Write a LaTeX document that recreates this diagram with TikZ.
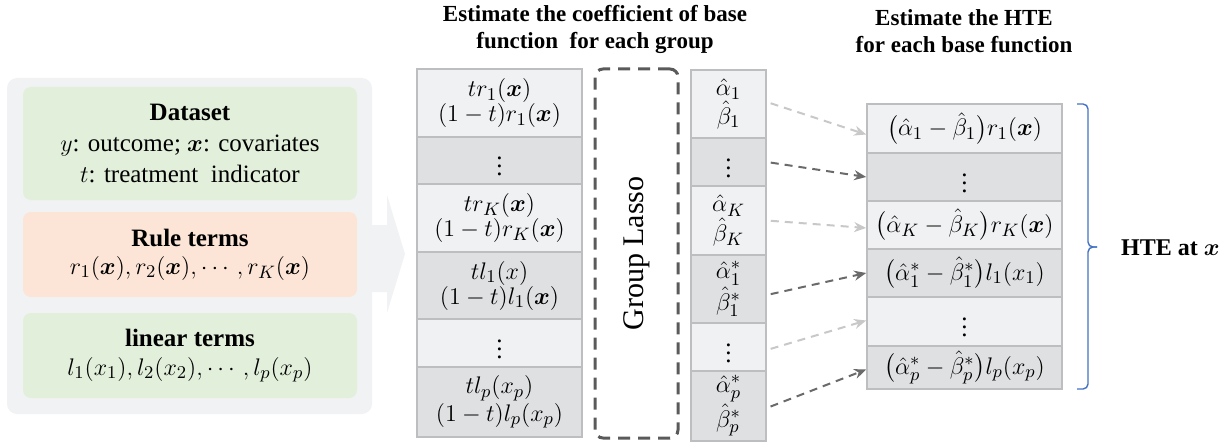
\documentclass[tikz,border=0pt]{standalone}
\usepackage{amsmath}
\usepackage{fontspec}
\setmainfont{Liberation Serif}
\usetikzlibrary{arrows.meta}
\definecolor{panelbg}{HTML}{F1F2F4}
\definecolor{greenbox}{HTML}{E2EFDA}
\definecolor{peachbox}{HTML}{FCE4D6}
\definecolor{celllight}{HTML}{F0F1F3}
\definecolor{celldark}{HTML}{DFE0E2}
\definecolor{cellborder}{HTML}{BDBEC0}
\definecolor{lassogray}{HTML}{5A5A5A}
\definecolor{arrowlight}{HTML}{C8C8C8}
\definecolor{arrowdark}{HTML}{6A6A6A}
\definecolor{braceblue}{HTML}{4472C4}
\tikzset{
  txt/.style={font=\fontsize{12.5}{15.5}\selectfont, align=center},
  inbox/.style={txt, rounded corners=4pt, inner sep=0pt, minimum width=167pt},
  cellbase/.style={align=center, draw=cellborder, line width=0.8pt, inner sep=0pt, font=\fontsize{12.5}{12.5}\selectfont},
  colA/.style={minimum width=82.5pt},
  colB/.style={minimum width=37.5pt},
  colH/.style={minimum width=97.5pt},
  cellL/.style={cellbase, fill=celllight},
  cellD/.style={cellbase, fill=celldark},
  title/.style={font=\fontsize{11.5}{13.5}\selectfont\bfseries, align=center},
  lightarrow/.style={draw=arrowlight, line width=1pt, dash pattern=on 4pt off 3pt, -{Stealth[length=6pt,width=5pt]}},
  darkarrow/.style={draw=arrowdark, line width=1pt, dash pattern=on 4pt off 3pt, -{Stealth[length=6pt,width=5pt]}}
}
\begin{document}
\begin{tikzpicture}[x=0.5pt,y=-0.5pt]
\useasboundingbox (0,0) rectangle (1219,444);
% left panel
\fill[panelbg, rounded corners=5pt] (7,78) rectangle (372,414);
\fill[panelbg] (371,225) -- (387,225) -- (387,195) -- (405,254) -- (387,313) -- (387,292) -- (371,292) -- cycle;
\node[inbox, fill=greenbox, minimum height=56.5pt] (data) at (190,143.5) {\textbf{Dataset}\\ $y$: outcome; $\boldsymbol{x}$: covariates\\ $t$: treatment\ \ indicator};
\node[inbox, fill=peachbox, minimum height=42.5pt, font=\fontsize{12.5}{14}\selectfont] (rule) at (190,254.5) {\textbf{Rule terms}\\ $r_1(\boldsymbol{x}), r_2(\boldsymbol{x}), \cdots, r_K(\boldsymbol{x})$};
\node[inbox, fill=greenbox, minimum height=42.5pt, font=\fontsize{12.5}{14.5}\selectfont] (lin) at (190,355.5) {\textbf{linear terms}\\ $l_1(x_1), l_2(x_2), \cdots, l_p(x_p)$};
% titles
\node[title] (t1) at (595,29) {Estimate the coefficient of base\\ function\ \ for each group};
\node[title] (t2) at (964,31) {Estimate the HTE\\ for each base function};
% first column
\node[cellL, colA, minimum height=34pt] (a1) at (499.5,103) {$t r_1(\boldsymbol{x})$\\ $(1-t) r_1(\boldsymbol{x})$};
\node[cellD, colA, minimum height=23.5pt] (a2) at (499.5,160.5) {$\vdots$};
\node[cellL, colA, minimum height=34pt] (a3) at (499.5,218) {$t r_K(\boldsymbol{x})$\\ $(1-t) r_K(\boldsymbol{x})$};
\node[cellD, colA, minimum height=33.5pt] (a4) at (499.5,285.5) {$t l_1(x)$\\ $(1-t) l_1(\boldsymbol{x})$};
\node[cellL, colA, minimum height=24pt] (a5) at (499.5,343) {$\vdots$};
\node[cellD, colA, minimum height=35pt] (a6) at (499.5,402) {$t l_p(x_p)$\\ $(1-t) l_p(x_p)$};
% group lasso
\node[draw=lassogray, line width=1.5pt, dash pattern=on 6pt off 4pt, rounded corners=4pt, inner sep=0pt, minimum width=41.5pt, minimum height=184.5pt] (lasso) at (636.5,253.5) {};
\node[rotate=90, font=\fontsize{15}{18}\selectfont] (lassotxt) at (lasso.center) {Group Lasso};
% coefficient column
\node[cellL, colB, minimum height=34pt] (b1) at (728.5,104) {$\hat{\alpha}_1$\\ $\hat{\beta}_1$};
\node[cellD, colB, minimum height=24pt] (b2) at (728.5,162) {$\vdots$};
\node[cellL, colB, minimum height=34.5pt] (b3) at (728.5,220.5) {$\hat{\alpha}_K$\\ $\hat{\beta}_K$};
\node[cellD, colB, minimum height=34pt] (b4) at (728.5,289) {$\hat{\alpha}_1^*$\\ $\hat{\beta}_1^*$};
\node[cellL, colB, minimum height=24pt] (b5) at (728.5,347) {$\vdots$};
\node[cellD, colB, minimum height=35pt] (b6) at (728.5,406) {$\hat{\alpha}_p^*$\\ $\hat{\beta}_p^*$};
% HTE column
\node[cellL, colH, minimum height=24.5pt] (h1) at (964.5,128.5) {$\bigl(\hat{\alpha}_1-\hat{\beta}_1\bigr) r_1(\boldsymbol{x})$};
\node[cellD, colH, minimum height=24pt] (h2) at (964.5,177) {$\vdots$};
\node[cellL, colH, minimum height=24pt] (h3) at (964.5,225) {$\bigl(\hat{\alpha}_K-\hat{\beta}_K\bigr) r_K(\boldsymbol{x})$};
\node[cellD, colH, minimum height=24pt] (h4) at (964.5,273) {$\bigl(\hat{\alpha}_1^*-\hat{\beta}_1^*\bigr) l_1(x_1)$};
\node[cellL, colH, minimum height=24.5pt] (h5) at (964.5,321.5) {$\vdots$};
\node[cellD, colH, minimum height=21.5pt] (h6) at (964.5,367.5) {$\bigl(\hat{\alpha}_p^*-\hat{\beta}_p^*\bigr) l_p(x_p)$};
% arrows
\draw[lightarrow, shorten <=2pt] ([yshift=1pt]b1.east) -- ([yshift=-3pt]h1.west);
\draw[darkarrow, shorten <=2pt] (b2.east) -- (h2.west);
\draw[lightarrow, shorten <=2pt] (b3.east) -- ([yshift=-1.5pt]h3.west);
\draw[darkarrow, shorten <=2pt] ([yshift=-3pt]b4.east) -- (h4.west);
\draw[lightarrow, shorten <=2pt] ([yshift=-1.5pt]b5.east) -- ([yshift=0.5pt]h5.west);
\draw[darkarrow, shorten <=2pt] ([yshift=-1pt]b6.east) -- ([yshift=-1pt]h6.west);
% brace
\coordinate (bt) at (1077,104);
\coordinate (bb) at (1077,389);
\coordinate (bm) at (1097,247);
\draw[braceblue, line width=0.7pt] (bt) -- (1083,104) to[out=0,in=90] (1088,109) -- (1088,242) to[out=-90,in=180] (1093,247) -- (bm);
\draw[braceblue, line width=0.7pt] (bm) -- (1093,247) to[out=180,in=90] (1088,252) -- (1088,384) to[out=-90,in=0] (1083,389) -- (bb);
\node[font=\fontsize{12}{14}\selectfont, anchor=west] (hte) at (1114,248) {\textbf{HTE at} $\boldsymbol{x}$};
\end{tikzpicture}
\end{document}
